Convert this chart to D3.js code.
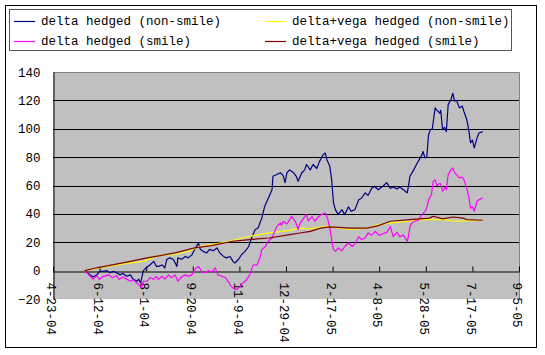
<!DOCTYPE html>
<html>
<head>
<meta charset="utf-8">
<script src="https://cdn.jsdelivr.net/npm/d3@7"></script>
<style>
    body { margin: 0; background: #fff; }
    svg text { font-family: "Liberation Mono", "DejaVu Sans Mono", monospace; font-size: 12.5px; fill: #000; }
</style>
</head>
<body>
<div id="chart"></div>
<script>
// Dates are day offsets from the first axis date (4-23-04).
var startDate = new Date( 2004, 3, 23 ),
    endDate = new Date( 2005, 8, 5 ),
    tickStepDays = 50,
    yTicks = [-20, 0, 20, 40, 60, 80, 100, 120, 140];

var seriesNames = ['delta hedged (non-smile)', 'delta+vega hedged (non-smile)',
                   'delta hedged (smile)', 'delta+vega hedged (smile)'];

// [day, value]
var deltaNonSmile = [
    [34,0],[40,-3],[43,-4.5],[47,-3],[50,-0.5],[54,-0.5],[58,0],[61,-1.5],[65,-0.5],[68,-1.5],
    [72,-3],[75,-2],[79,-4],[83,-3],[86,-6],[90,-7.5],[92,-6],[94,-8.7],[97,0],[100,2],
    [104,4],[108,6.5],[111,3],[113,3],[117,4],[120,2],[122,7.8],[125,9],[129,8],[133,3],
    [134,9],[138,8],[142,10],[145,9],[149,11],[152,15],[156,19.5],[158,15],[161,13.6],[165,12.5],
    [168,15],[172,14],[176,16],[179,12.5],[183,10],[186,9],[190,10],[193,6.5],[195,5.4],[199,7.8],
    [202,11],[206,13.6],[210,17],[213,23],[217,29],[220,30],[224,37],[227,45],[231,51],[235,57],
    [236,66.5],[240,67.7],[244,69],[247,67],[249,62],[251,69],[254,71],[258,69],[261,66.5],[263,63],
    [267,69],[270,71],[272,74.8],[276,71],[279,74.8],[283,72],[286,77],[290,81.8],[292,83],[294,78],
    [297,73.5],[299,64],[301,47.7],[303,43],[306,39.5],[310,43],[313,39.5],[317,45],[320,41.8],[324,43],
    [328,50],[331,51],[335,54.8],[338,53],[342,58],[345,59.5],[349,57],[351,58],[354,59.5],[358,62],
    [362,58],[365,59],[369,57.5],[372,59],[376,57],[380,54.8],[381,58],[383,66.5],[387,71],[390,74.8],
    [394,79.5],[396,81.8],[397,84],[399,79.5],[401,80],[403,96],[405,99.4],[407,100],[410,114.7],[412,113],
    [415,111],[416,113],[418,99.4],[420,101],[422,98],[424,117],[427,120.6],[429,125],[431,119.4],[433,120],
    [436,114.7],[439,116],[441,112],[444,106.5],[446,99.4],[448,90],[450,92],[452,86.5],[455,93.6],[457,97],
    [461,98]
];

var deltaVegaNonSmile = [
    [34,0],[58,3],[83,5.4],[97,6.5],[115,11],[127,11],[145,13.6],[156,16.7],[170,18.3],[181,19.5],
    [193,21.4],[211,24.2],[232,26.6],[254,28.4],[265,30],[276,29.4],[294,31.2],[319,29],[337,30],[349,32.4],
    [362,33.6],[383,34.8],[394,36],[420,36],[430,34.8],[445,35],[461,35.5]
];

var deltaSmile = [
    [34,0],[40,-4],[43,-6],[47,-3.5],[50,-6.3],[54,-4],[60,-3],[64,-5],[68,-3.5],[71,-6.3],
    [75,-4.5],[79,-6],[83,-7.5],[86,-6.5],[90,-8.7],[93,-10.6],[95,-12.2],[97,-7.5],[101,-7.5],[104,-5],
    [108,-6],[111,-4],[113,-6.3],[117,-4],[120,-6],[124,-3],[127,-5],[131,-3],[134,-7.5],[138,-4.5],
    [142,-3],[145,-4],[149,-3],[152,0.7],[156,3],[160,-1],[163,-1.6],[167,0],[170,-1],[174,2],
    [177,-3],[181,-4],[185,-5],[188,-7.5],[190,-10],[193,-12.2],[197,-13.4],[201,-11],[204,-8.7],[208,-6.3],
    [211,-3],[213,0.7],[215,4],[219,4],[222,9],[224,14.8],[228,17],[231,20.7],[235,23],[238,27.7],
    [240,31],[244,33.6],[245,32],[247,34.8],[251,33],[254,36],[256,38.3],[260,34.8],[263,29],[265,33],
    [269,37],[272,39.5],[274,35],[278,38],[281,34.8],[285,38],[288,39.5],[292,40.6],[295,36],[297,30],
    [299,21.9],[301,14.8],[303,13.6],[306,16],[310,14],[313,17],[317,19.5],[321,17],[324,19],[328,24],
    [331,21.9],[335,23],[338,26.6],[342,25],[346,27.7],[349,25.4],[351,25],[354,26],[358,27],[362,31],
    [365,24],[369,27],[372,24],[376,25],[380,20.7],[381,23],[383,31],[385,33.6],[388,34.8],[392,35.5],
    [396,39.5],[399,41.8],[401,44],[403,50],[406,53.6],[408,63],[410,64],[412,60],[415,61.5],[416,61],
    [418,56],[421,59],[422,57],[424,67.7],[427,71],[429,72.4],[431,69],[433,67.7],[436,65.4],[439,66],
    [441,64],[444,58],[446,52.4],[448,44],[450,45],[452,41.8],[455,48.9],[457,50],[461,51.3]
];

var deltaVegaSmile = [
    [34,0],[47,2],[65,4.2],[83,6.5],[101,9],[115,10.6],[131,12.5],[152,16],[170,17.6],[193,20.7],
    [211,21.9],[232,23],[254,25.4],[265,26.5],[276,27.7],[287,30],[297,30.8],[319,30],[337,30],[349,31.7],
    [362,34.8],[383,36],[404,37],[408,38.3],[418,36.5],[429,37.8],[440,37],[444,36],[461,35.5]
];

var seriesData = [deltaNonSmile, deltaVegaNonSmile, deltaSmile, deltaVegaSmile],
    seriesColors = ['#000080', '#ffff00', '#ff00ff', '#800000'];

var width = 545,
    height = 355,
    plot = { left: 53, right: 519, top: 72, bottom: 299 };

var svg = d3.select( '#chart' )
    .append( 'svg' )
    .attr( 'width', width )
    .attr( 'height', height );

// Outer frame.
svg.append( 'rect' )
    .attr( 'x', 5.5 ).attr( 'y', 5.5 )
    .attr( 'width', 531 ).attr( 'height', 342 )
    .attr( 'fill', '#fff' )
    .attr( 'stroke', '#000' );

var x = d3.scaleTime()
    .domain( [startDate, endDate] )
    .range( [plot.left, plot.right] );

var y = d3.scaleLinear()
    .domain( [-20, 140] )
    .range( [plot.bottom, plot.top] );

// Plot area.
svg.append( 'rect' )
    .attr( 'x', plot.left ).attr( 'y', plot.top )
    .attr( 'width', plot.right - plot.left ).attr( 'height', plot.bottom - plot.top )
    .attr( 'fill', '#c0c0c0' );

svg.append( 'path' )
    .attr( 'd', 'M' + plot.left + ',' + ( plot.top + 0.5 ) + 'H' + ( plot.right + 0.5 ) + 'V' + plot.bottom )
    .attr( 'fill', 'none' )
    .attr( 'stroke', '#808080' );

// Gridlines.
svg.append( 'g' )
    .selectAll( 'line' )
    .data( yTicks.filter( function ( d ) { return d > 0 && d < 140; } ) )
    .join( 'line' )
        .attr( 'x1', plot.left ).attr( 'x2', plot.right )
        .attr( 'y1', function ( d ) { return Math.round( y( d ) ) + 0.5; } )
        .attr( 'y2', function ( d ) { return Math.round( y( d ) ) + 0.5; } )
        .attr( 'stroke', '#000' );

// Y axis.
var yAxis = svg.append( 'g' )
    .attr( 'transform', 'translate(' + ( plot.left + 0.5 ) + ',0)' )
    .call( d3.axisLeft( y ).tickValues( yTicks ).tickSize( 0 ).tickPadding( 13 ) );
yAxis.attr( 'font-family', null ).attr( 'font-size', null );
yAxis.select( '.domain' ).attr( 'stroke', '#000' );

// X axis on the zero line.
var xTicks = d3.range( 0, 501, tickStepDays ).map( function ( d ) { return d3.timeDay.offset( startDate, d ); } );
var xAxis = svg.append( 'g' )
    .attr( 'transform', 'translate(0,' + ( Math.round( y( 0 ) ) + 0.5 ) + ')' )
    .call( d3.axisBottom( x )
        .tickValues( xTicks )
        .tickSizeInner( -5 )
        .tickSizeOuter( 0 )
        .tickFormat( d3.timeFormat( '%-m-%-d-%y' ) ) );
xAxis.attr( 'font-family', null ).attr( 'font-size', null );
xAxis.select( '.domain' ).attr( 'stroke', '#000' );
xAxis.selectAll( 'g.tick' )
    .select( 'text' )
    .attr( 'x', 0 ).attr( 'y', 0 )
    .attr( 'dy', '0.35em' )
    .attr( 'text-anchor', 'start' )
    .attr( 'transform', 'translate(-2,11) rotate(90)' );

// Series.
var line = d3.line()
    .x( function ( d ) { return x( d3.timeDay.offset( startDate, d[0] ) ); } )
    .y( function ( d ) { return y( d[1] ); } );

svg.append( 'g' )
    .selectAll( 'path' )
    .data( seriesData )
    .join( 'path' )
        .attr( 'd', line )
        .attr( 'fill', 'none' )
        .attr( 'stroke', function ( d, i ) { return seriesColors[i]; } )
        .attr( 'stroke-width', 1.2 )
        .attr( 'stroke-linejoin', 'round' );

// Legend.
svg.append( 'rect' )
    .attr( 'x', 9.5 ).attr( 'y', 9.5 )
    .attr( 'width', 502 ).attr( 'height', 41 )
    .attr( 'fill', '#fff' )
    .attr( 'stroke', '#555' );

var legendPos = [ { x: 14, y: 21 }, { x: 265, y: 21 }, { x: 14, y: 41 }, { x: 265, y: 41 } ];

var legend = svg.append( 'g' )
    .selectAll( 'g' )
    .data( seriesNames )
    .join( 'g' )
        .attr( 'transform', function ( d, i ) { return 'translate(' + legendPos[i].x + ',' + legendPos[i].y + ')'; } );

legend.each( function ( d, i ) {
    d3.select( this ).append( 'line' )
        .attr( 'x1', 0 ).attr( 'x2', 21 )
        .attr( 'y1', 0.5 ).attr( 'y2', 0.5 )
        .attr( 'stroke', seriesColors[i] )
        .attr( 'stroke-width', 1.2 );
} );

legend.append( 'text' )
    .attr( 'x', 27 )
    .attr( 'dy', '0.35em' )
    .text( function ( d ) { return d; } );
</script>
</body>
</html>
